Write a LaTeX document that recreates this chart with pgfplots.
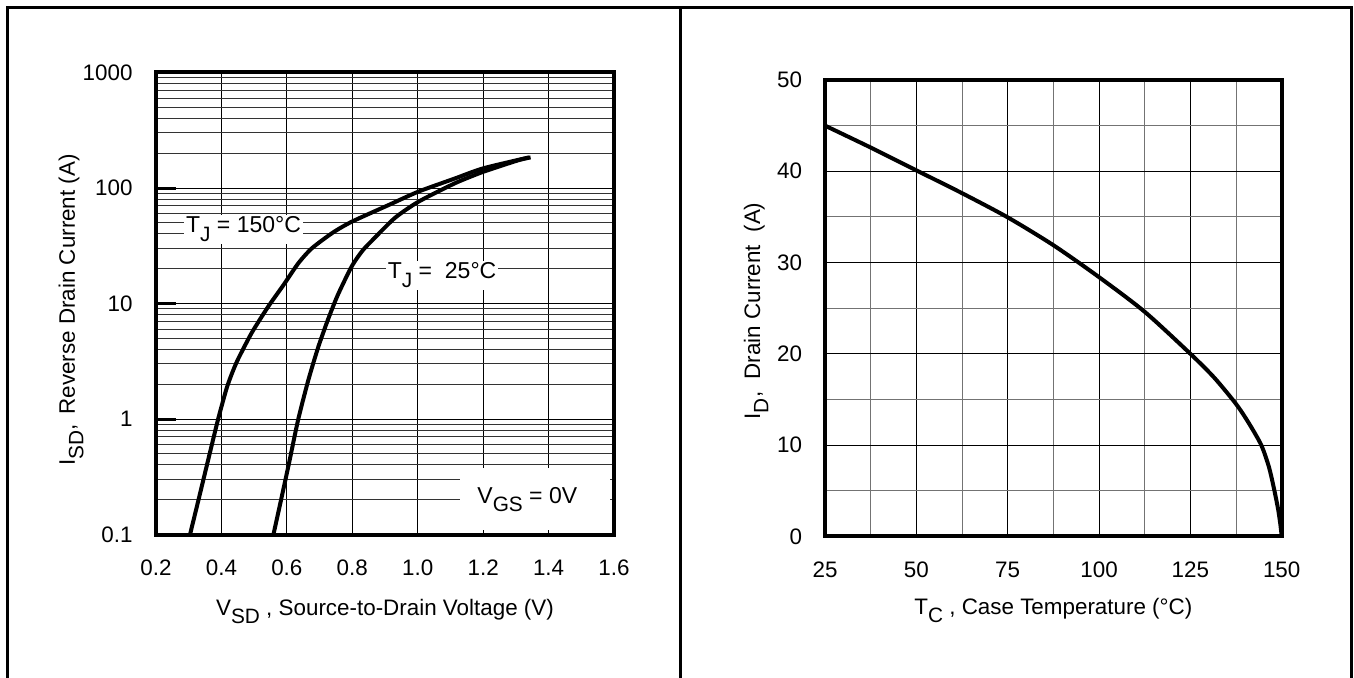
\documentclass[border=0pt]{standalone}
\usepackage{fontspec}
\setmainfont{Liberation Sans}
\usepackage{pgfplots}
\pgfplotsset{compat=1.18}
% lowered, slightly smaller subscript as used on datasheet labels
\newcommand{\sub}[1]{\raisebox{-4.2pt}{\fontsize{10.4}{12}\selectfont #1}}
\newcommand{\lbl}{\fontsize{11.2}{13}\selectfont}
\newcommand{\ann}{\fontsize{11.5}{13}\selectfont}

\begin{document}
\begin{tikzpicture}
\useasboundingbox (0pt,0pt) rectangle (677pt,338.5pt);
% panel frame
\draw[line width=1.5pt] (3.5pt,-2pt) -- (3.5pt,335pt) -- (675.5pt,335pt) -- (675.5pt,-2pt);
\draw[line width=1.5pt] (340pt,-2pt) -- (340pt,335pt);

% ---------- source-drain diode forward voltage ----------
\begin{axis}[
  at={(78pt,71.25pt)}, anchor=south west,
  scale only axis, width=229pt, height=231pt,
  ymode=log, xmin=0.2, xmax=1.6, ymin=0.1, ymax=1000,
  xtick={0.2,0.4,0.6,0.8,1.0,1.2,1.4,1.6},
  xticklabels={0.2,0.4,0.6,0.8,1.0,1.2,1.4,1.6},
  ytick={0.1,1,10,100,1000},
  yticklabels={0.1,1,10,100,1000},
  xmajorgrids, ymajorgrids, yminorgrids,
  grid style={line width=0.5pt, black},
  minor grid style={line width=0.5pt, black!80},
  axis line style={line width=2pt},
  xtick style={draw=none},
  ytick style={line width=1.5pt, black},
  major tick length=10pt, minor tick length=0pt,
  tick align=inside, ytick pos=left,
  tick label style={font=\lbl},
  xticklabel style={yshift=-9.3pt},
  yticklabel style={xshift=-8.2pt},
  xlabel={V\sub{SD} , Source-to-Drain Voltage (V)},
  ylabel={I\sub{SD},\ \,Reverse Drain Current (A)},
  label style={font=\lbl},
  xlabel style={at={(axis description cs:0.5,0)}, anchor=base, yshift=-40.5pt},
  ylabel style={at={(axis description cs:-0.1769,0.486)}, anchor=base},
]
\fill[white] (axis cs:1.13,0.109) rectangle (axis cs:1.589,0.376);
\node[anchor=base, font=\ann] at (axis cs:1.335,0.187) {V\sub{GS} = 0V};
\node[anchor=base, fill=white, inner sep=1pt, font=\ann] at (axis cs:0.4676,40.8) {T\sub{J} = 150°C};
\node[anchor=base, fill=white, inner sep=1pt, font=\ann] at (axis cs:1.0746,16.3) {T\sub{J} =\ \ 25°C};

% T_J = 150 C
\addplot[line width=2pt, smooth, tension=0.4] coordinates {
  (0.304,0.1) (0.330,0.2) (0.364,0.5) (0.390,1.0) (0.416,1.85)
  (0.435,2.6) (0.452,3.35) (0.493,5.6) (0.543,9.4) (0.590,14.5)
  (0.635,22.3) (0.676,30) (0.740,41) (0.798,51) (0.910,71)
  (1.002,93) (1.114,121) (1.200,148) (1.340,184)
};
% T_J = 25 C
\addplot[line width=2pt, smooth, tension=0.4] coordinates {
  (0.559,0.1) (0.584,0.21) (0.607,0.42) (0.635,1.0) (0.666,2.19)
  (0.696,4.2) (0.726,7.3) (0.756,11.9) (0.798,20.9) (0.830,28.4)
  (0.860,35) (0.930,55) (1.002,76) (1.114,110) (1.200,138)
  (1.308,174) (1.345,184)
};
\end{axis}

% ---------- maximum drain current vs case temperature ----------
\begin{axis}[
  at={(412.5pt,70.35pt)}, anchor=south west,
  scale only axis, width=228.35pt, height=228.15pt,
  xmin=25, xmax=150, ymin=0, ymax=50,
  xtick={25,50,75,100,125,150},
  xticklabels={25,50,75,100,125,150},
  ytick={0,10,20,30,40,50},
  yticklabels={0,10,20,30,40,50},
  minor x tick num=1, minor y tick num=1,
  xmajorgrids, ymajorgrids, xminorgrids, yminorgrids,
  grid style={line width=0.5pt, black},
  minor grid style={line width=0.5pt, black!55},
  axis line style={line width=2pt},
  tick style={draw=none},
  major tick length=0pt, minor tick length=0pt,
  tick label style={font=\lbl},
  xticklabel style={yshift=-9.3pt},
  yticklabel style={xshift=-7.9pt},
  xlabel={T\sub{C} , Case Temperature (°C)},
  ylabel={I\sub{D},\ \ Drain Current\ \ (A)},
  label style={font=\lbl},
  xlabel style={at={(axis description cs:0.5,0)}, anchor=base, yshift=-39pt},
  ylabel style={at={(axis description cs:-0.1423,0.494)}, anchor=base},
]
\addplot[line width=2pt, smooth, tension=0.45] coordinates {
  (25,45) (37.5,42.6) (50,40.1) (62.5,37.6) (75,34.95) (87.5,31.9)
  (100,28.4) (112.5,24.6) (125,20.0) (131.5,17.4) (137.5,14.5)
  (141,12.4) (144.4,10.0) (146.5,7.6) (147.9,5.2) (149,3.0)
  (149.6,1.4) (150,0)
};
\end{axis}
\end{tikzpicture}
\end{document}
